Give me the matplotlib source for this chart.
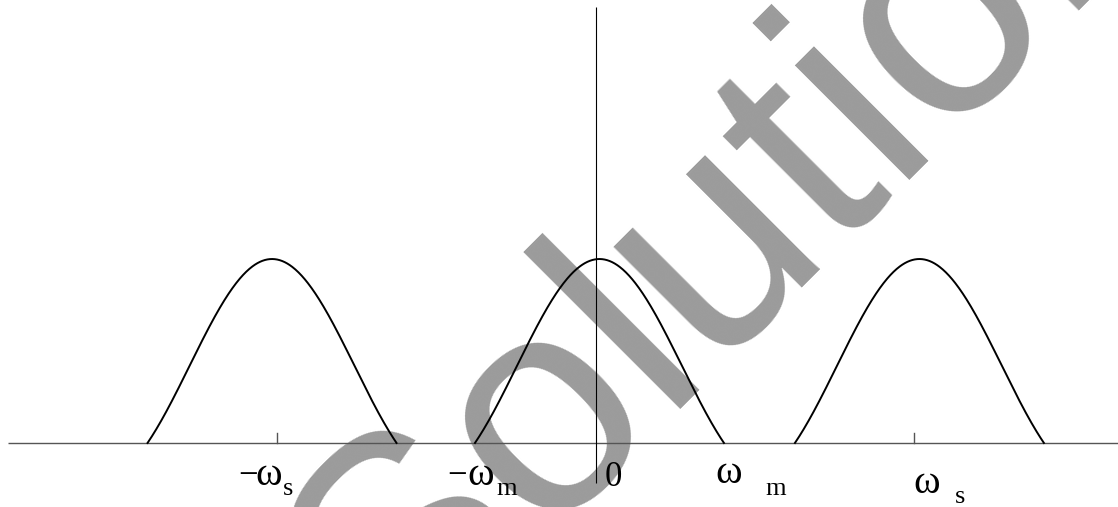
import numpy as np
import matplotlib
matplotlib.use("Agg")
import matplotlib.pyplot as plt

# Spectrum of a sampled signal: baseband lobe plus images at +/- omega_s
omega_m = 1.0                       # half-bandwidth of each lobe
omega_s = 2.56                      # sampling frequency (tick positions)
lobe_centers = [-2.60, 0.03, 2.60]  # centres of the three spectral lobes
lobe_peak = 1.0

tick_values = [-omega_s, omega_s]

W, H, DPI = 1118, 507, 100
fig = plt.figure(figsize=(W / DPI, H / DPI), dpi=DPI)
ax = fig.add_axes([0, 0, 1, 1])
ax.set_xlim(-4.785, 4.195)
ax.set_ylim(-0.348, 2.408)
ax.axis("off")

# Watermark text behind the plot
ax.text(0.3546, -0.3385, "Solutions", transform=ax.transAxes,
        rotation=45, rotation_mode="anchor", ha="left", va="baseline",
        fontsize=221, family="Liberation Sans", color="#9b9b9b",
        zorder=0.5, clip_on=False)

# Axes lines
ax.plot([-4.72, 4.195], [0, 0], color="#555555", lw=1.0, zorder=2,
        solid_capstyle="butt")
ax.plot([0, 0], [-0.217, 2.37], color="black", lw=0.8, zorder=2,
        solid_capstyle="butt")

# Small ticks at +/- omega_s
for t in tick_values:
    ax.plot([t, t], [0, 0.054], color="#555555", lw=1.0, zorder=2)

# Lobes (sinc main lobe shape)
for c in lobe_centers:
    x = np.linspace(c - omega_m, c + omega_m, 400)
    y = lobe_peak * np.sinc((x - c) / omega_m)
    ax.plot(x, y, color="black", lw=1.4, zorder=3)

# Frequency labels
serif = "Liberation Serif"
minus_fs, omega_fs, digit_fs, sub_fs = 25, 29, 25, 19
labels = [
    ("\u2212", -2.873, -0.228, minus_fs),
    ("\u03c9", -2.730, -0.228, omega_fs),
    ("s", -2.515, -0.283, sub_fs),
    ("\u2212", -1.194, -0.228, minus_fs),
    ("\u03c9", -1.034, -0.228, omega_fs),
    ("m", -0.800, -0.283, sub_fs),
    ("0", 0.075, -0.234, digit_fs),
    ("\u03c9", 0.958, -0.217, omega_fs),
    ("m", 1.360, -0.283, sub_fs),
    ("\u03c9", 2.549, -0.272, omega_fs),
    ("s", 2.886, -0.326, sub_fs),
]
for txt, x, y, fs in labels:
    ax.text(x, y, txt, ha="left", va="baseline", fontsize=fs,
            family=serif, color="black", zorder=4)

fig.savefig("out.png", dpi=DPI, facecolor="white")
